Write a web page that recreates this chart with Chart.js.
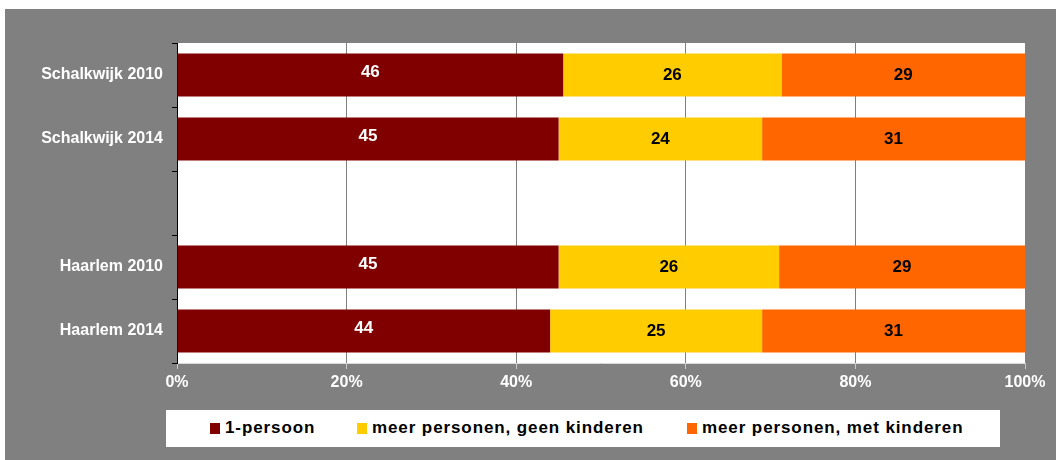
<!DOCTYPE html>
<html>
<head>
<meta charset="utf-8">
<script src="https://cdn.jsdelivr.net/npm/chart.js@4/dist/chart.umd.min.js"></script>
<style>
  body { margin: 0; background: #fff; width: 1056px; height: 460px; position: relative; overflow: hidden; }
  #wrap { position: absolute; left: 5px; top: 9px; width: 1051px; height: 451px; background: #808080; }
  #legend { position: absolute; left: 166px; top: 410px; width: 834px; height: 37px; background: #fff; }
  .mk { position: absolute; top: 13px; width: 10px; height: 11px; }
  .lt { position: absolute; top: 8px; font: bold 17px "Liberation Sans", Arial, sans-serif; letter-spacing: 0.9px; color: #000; white-space: nowrap; line-height: 20px; }
</style>
</head>
<body>
<div id="wrap"><canvas id="chart" width="1051" height="451"></canvas></div>
<div id="legend"></div>
<script>
// values as shown in the data labels (%)
const categories = ['Schalkwijk 2010', 'Schalkwijk 2014', '', 'Haarlem 2010', 'Haarlem 2014'];
const eenPersoon = [46, 45, null, 45, 44];
const geenKinderen = [26, 24, null, 26, 25];
const metKinderen = [29, 31, null, 29, 31];
const seriesNames = ['1-persoon', 'meer personen, geen kinderen', 'meer personen, met kinderen'];
const seriesColors = ['#800000', '#FFCC00', '#FF6600'];
const labelColors = ['#ffffff', '#000000', '#000000'];
const xTicks = [0, 20, 40, 60, 80, 100];

const FONT = '"Liberation Sans", Arial, sans-serif';
const raw = [eenPersoon, geenKinderen, metKinderen];

// 100% stacked: scale each row to its total
const totals = categories.map((_, i) => raw.reduce((s, arr) => s + (arr[i] || 0), 0));
const datasets = raw.map((arr, d) => ({
  label: seriesNames[d],
  data: arr.map((v, i) => v == null ? null : v / totals[i] * 100),
  raw: arr,
  backgroundColor: seriesColors[d],
  borderWidth: 0,
  barPercentage: 0.67,
  categoryPercentage: 1
}));

const plotBackground = {
  id: 'plotBackground',
  beforeDraw(chart) {
    const { ctx, chartArea: a } = chart;
    ctx.save();
    ctx.fillStyle = '#ffffff';
    ctx.fillRect(a.left, a.top, a.right - a.left, a.bottom - a.top);
    ctx.restore();
  }
};

const valueLabels = {
  id: 'valueLabels',
  afterDatasetsDraw(chart) {
    const ctx = chart.ctx;
    ctx.save();
    ctx.font = 'bold 17px ' + FONT;
    ctx.textAlign = 'center';
    ctx.textBaseline = 'middle';
    chart.data.datasets.forEach((ds, d) => {
      const meta = chart.getDatasetMeta(d);
      meta.data.forEach((bar, i) => {
        const v = ds.raw[i];
        if (v == null) return;
        ctx.fillStyle = labelColors[d];
        ctx.fillText(String(v), (bar.x + bar.base) / 2, bar.y + (d === 0 ? -3 : 0));
      });
    });
    ctx.restore();
  }
};

new Chart(document.getElementById('chart'), {
  type: 'bar',
  data: { labels: categories, datasets },
  options: {
    indexAxis: 'y',
    responsive: false,
    animation: false,
    layout: { padding: { left: 0, right: 31, top: 34, bottom: 57 } },
    plugins: {
      legend: { display: false },
      tooltip: { enabled: false }
    },
    scales: {
      x: {
        stacked: true,
        min: 0,
        max: 100,
        afterBuildTicks: (scale) => { scale.ticks = xTicks.map(v => ({ value: v })); },
        afterFit: (scale) => { scale.height = 40; },
        ticks: {
          color: '#ffffff',
          font: { family: FONT, size: 16, weight: 'bold' },
          padding: 4,
          maxRotation: 0,
          callback: (v) => v + '%'
        },
        grid: { color: '#808080', tickColor: '#c8c8c8', tickLength: 6, lineWidth: 1 },
        border: { color: '#d9d9d9', width: 1 }
      },
      y: {
        stacked: true,
        afterFit: (scale) => { scale.width = 172; },
        ticks: {
          color: '#ffffff',
          font: { family: FONT, size: 16, weight: 'bold' },
          padding: 9
        },
        grid: { offset: true, drawOnChartArea: false, color: '#000000', tickLength: 5 },
        border: { color: '#000000', width: 1 }
      }
    }
  },
  plugins: [plotBackground, valueLabels]
});

// legend, laid out like the original
const legend = document.getElementById('legend');
const legendLeft = [44, 191, 521];
seriesNames.forEach((name, d) => {
  const mk = document.createElement('div');
  mk.className = 'mk';
  mk.style.left = legendLeft[d] + 'px';
  mk.style.background = seriesColors[d];
  legend.appendChild(mk);
  const t = document.createElement('div');
  t.className = 'lt';
  t.style.left = (legendLeft[d] + 15) + 'px';
  t.textContent = name;
  legend.appendChild(t);
});
</script>
</body>
</html>
